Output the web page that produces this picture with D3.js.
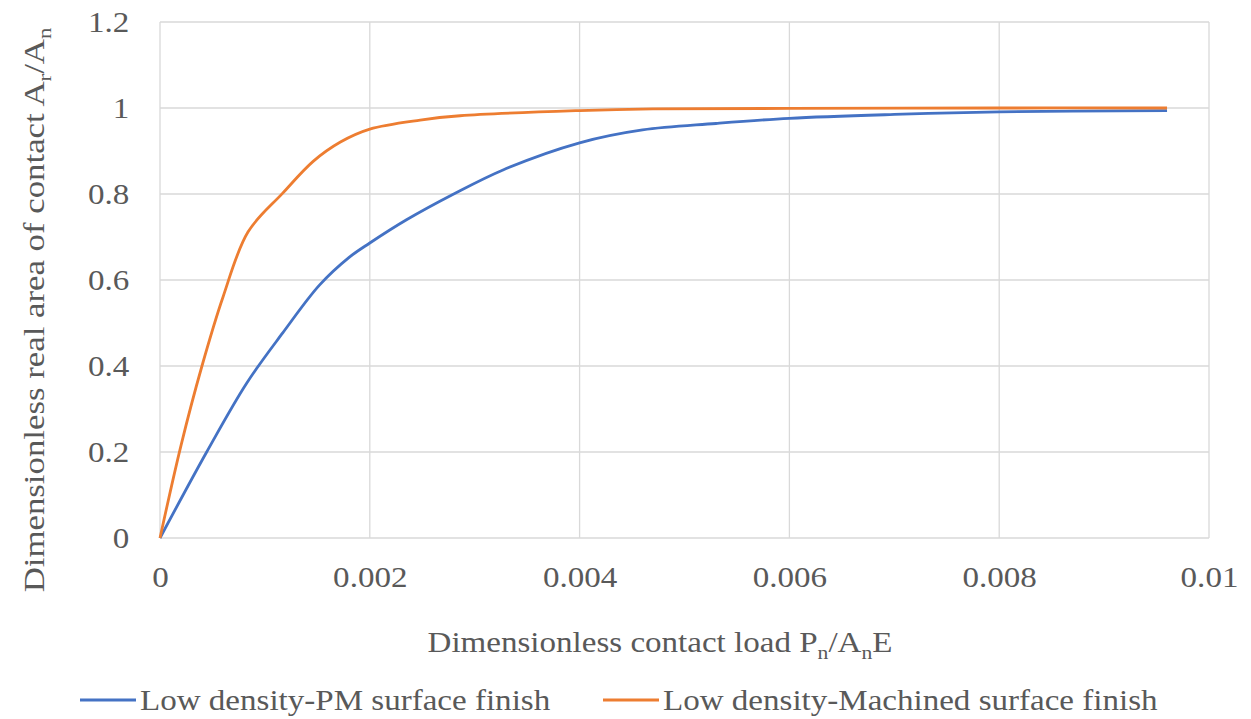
<!DOCTYPE html>
<html>
<head>
<meta charset="utf-8">
<script src="https://cdn.jsdelivr.net/npm/d3@7"></script>
<style>
  body { margin: 0; background: #fff; }
  text { font-family: "Liberation Serif", "Times New Roman", serif; fill: #595959; }
</style>
</head>
<body>
<svg id="chart" width="1251" height="719"></svg>
<script>
// series
var pmLoad = [0, 0.000445, 0.000826, 0.00117, 0.00152, 0.0018, 0.002, 0.00235, 0.0028, 0.00327, 0.004, 0.0046, 0.0053, 0.006, 0.007, 0.008, 0.0096]
var pmArea = [0, 0.2, 0.36, 0.477, 0.588, 0.652, 0.686, 0.74, 0.8, 0.856, 0.919, 0.949, 0.964, 0.976, 0.985, 0.991, 0.994]

var machLoad = [0, 0.0002, 0.0004, 0.0006, 0.00084, 0.00117, 0.00146, 0.00172, 0.002, 0.00248, 0.00286, 0.004, 0.0047, 0.006, 0.008, 0.0096]
var machArea = [0, 0.215, 0.40, 0.56, 0.712, 0.802, 0.876, 0.921, 0.951, 0.972, 0.982, 0.994, 0.998, 0.999, 1.0, 1.0]

var xTicks = [0, 0.002, 0.004, 0.006, 0.008, 0.01]
var yTicks = [0, 0.2, 0.4, 0.6, 0.8, 1, 1.2]
var seriesNames = ['Low density-PM surface finish', 'Low density-Machined surface finish']
var colors = ['#4472C4', '#ED7D31']

var svg = d3.select('#chart')
  , plotL = 160, plotR = 1209, plotT = 22, plotB = 538
  , stretch = 'scale(1.14,1)' // the source picture is stretched sideways

var x = d3.scaleLinear().domain([0, 0.01]).range([plotL, plotR])
var y = d3.scaleLinear().domain([0, 1.2]).range([plotB, plotT])

// grid
svg.append('g').selectAll('line').data(yTicks)
  .enter().append('line')
  .attr('x1', plotL).attr('x2', plotR)
  .attr('y1', function(d) { return y(d) }).attr('y2', function(d) { return y(d) })
  .attr('stroke', '#d9d9d9').attr('stroke-width', 1.3)
svg.append('g').selectAll('line').data(xTicks)
  .enter().append('line')
  .attr('y1', plotT).attr('y2', plotB)
  .attr('x1', function(d) { return x(d) }).attr('x2', function(d) { return x(d) })
  .attr('stroke', '#d9d9d9').attr('stroke-width', 1.3)

// axes, labels only
var fmt = function(d) { return d3.format('~g')(+d.toFixed(4)) }
svg.append('g').attr('transform', 'translate(0,' + plotB + ')')
  .call(d3.axisBottom(x).tickValues(xTicks).tickSize(0).tickPadding(28).tickFormat(fmt))
  .selectAll('.tick text').attr('transform', stretch)
svg.append('g').attr('transform', 'translate(' + plotL + ',0)')
  .call(d3.axisLeft(y).tickValues(yTicks).tickSize(0).tickFormat(fmt))
  .selectAll('.tick text').attr('x', -27).attr('transform', stretch)
svg.selectAll('.domain').remove()
svg.selectAll('.tick text')
  .style('font-family', '"Liberation Serif", serif')
  .style('font-size', '29px').attr('fill', '#595959')

// lines (smoothed like the spreadsheet)
var line = d3.line().curve(d3.curveCatmullRom.alpha(0.5))
  .x(function(d) { return x(d[0]) })
  .y(function(d) { return y(d[1]) })
var series = [d3.zip(pmLoad, pmArea), d3.zip(machLoad, machArea)]
svg.append('g').selectAll('path').data(series)
  .enter().append('path')
  .attr('d', line)
  .attr('fill', 'none')
  .attr('stroke', function(d, i) { return colors[i] })
  .attr('stroke-width', 2.8)
  .attr('stroke-linejoin', 'round')

// axis titles
var xt = svg.append('g').attr('transform', 'translate(660,652)')
  .append('text').attr('transform', stretch)
  .attr('text-anchor', 'middle').style('font-size', '29px')
xt.append('tspan').text('Dimensionless contact load P')
xt.append('tspan').attr('dy', 7).style('font-size', '19px').text('n')
xt.append('tspan').attr('dy', -7).text('/A')
xt.append('tspan').attr('dy', 7).style('font-size', '19px').text('n')
xt.append('tspan').attr('dy', -7).text('E')

var yt = svg.append('g').attr('transform', 'translate(44,310) rotate(-90)')
  .append('text').attr('transform', 'scale(1.2,1)')
  .attr('text-anchor', 'middle').style('font-size', '29px')
yt.append('tspan').text('Dimensionless real area of contact A')
yt.append('tspan').attr('dy', 7).style('font-size', '19px').text('r')
yt.append('tspan').attr('dy', -7).text('/A')
yt.append('tspan').attr('dy', 7).style('font-size', '19px').text('n')

// legend
var legendX = [80, 603]
var legend = svg.append('g').selectAll('g').data(seriesNames)
  .enter().append('g')
  .attr('transform', function(d, i) { return 'translate(' + legendX[i] + ',700)' })
legend.append('line').attr('x1', 0).attr('x2', 56)
  .attr('stroke', function(d, i) { return colors[i] }).attr('stroke-width', 2.8)
legend.append('g').attr('transform', 'translate(60,10)')
  .append('text').attr('transform', stretch).style('font-size', '29px')
  .text(function(d) { return d })
</script>
</body>
</html>
